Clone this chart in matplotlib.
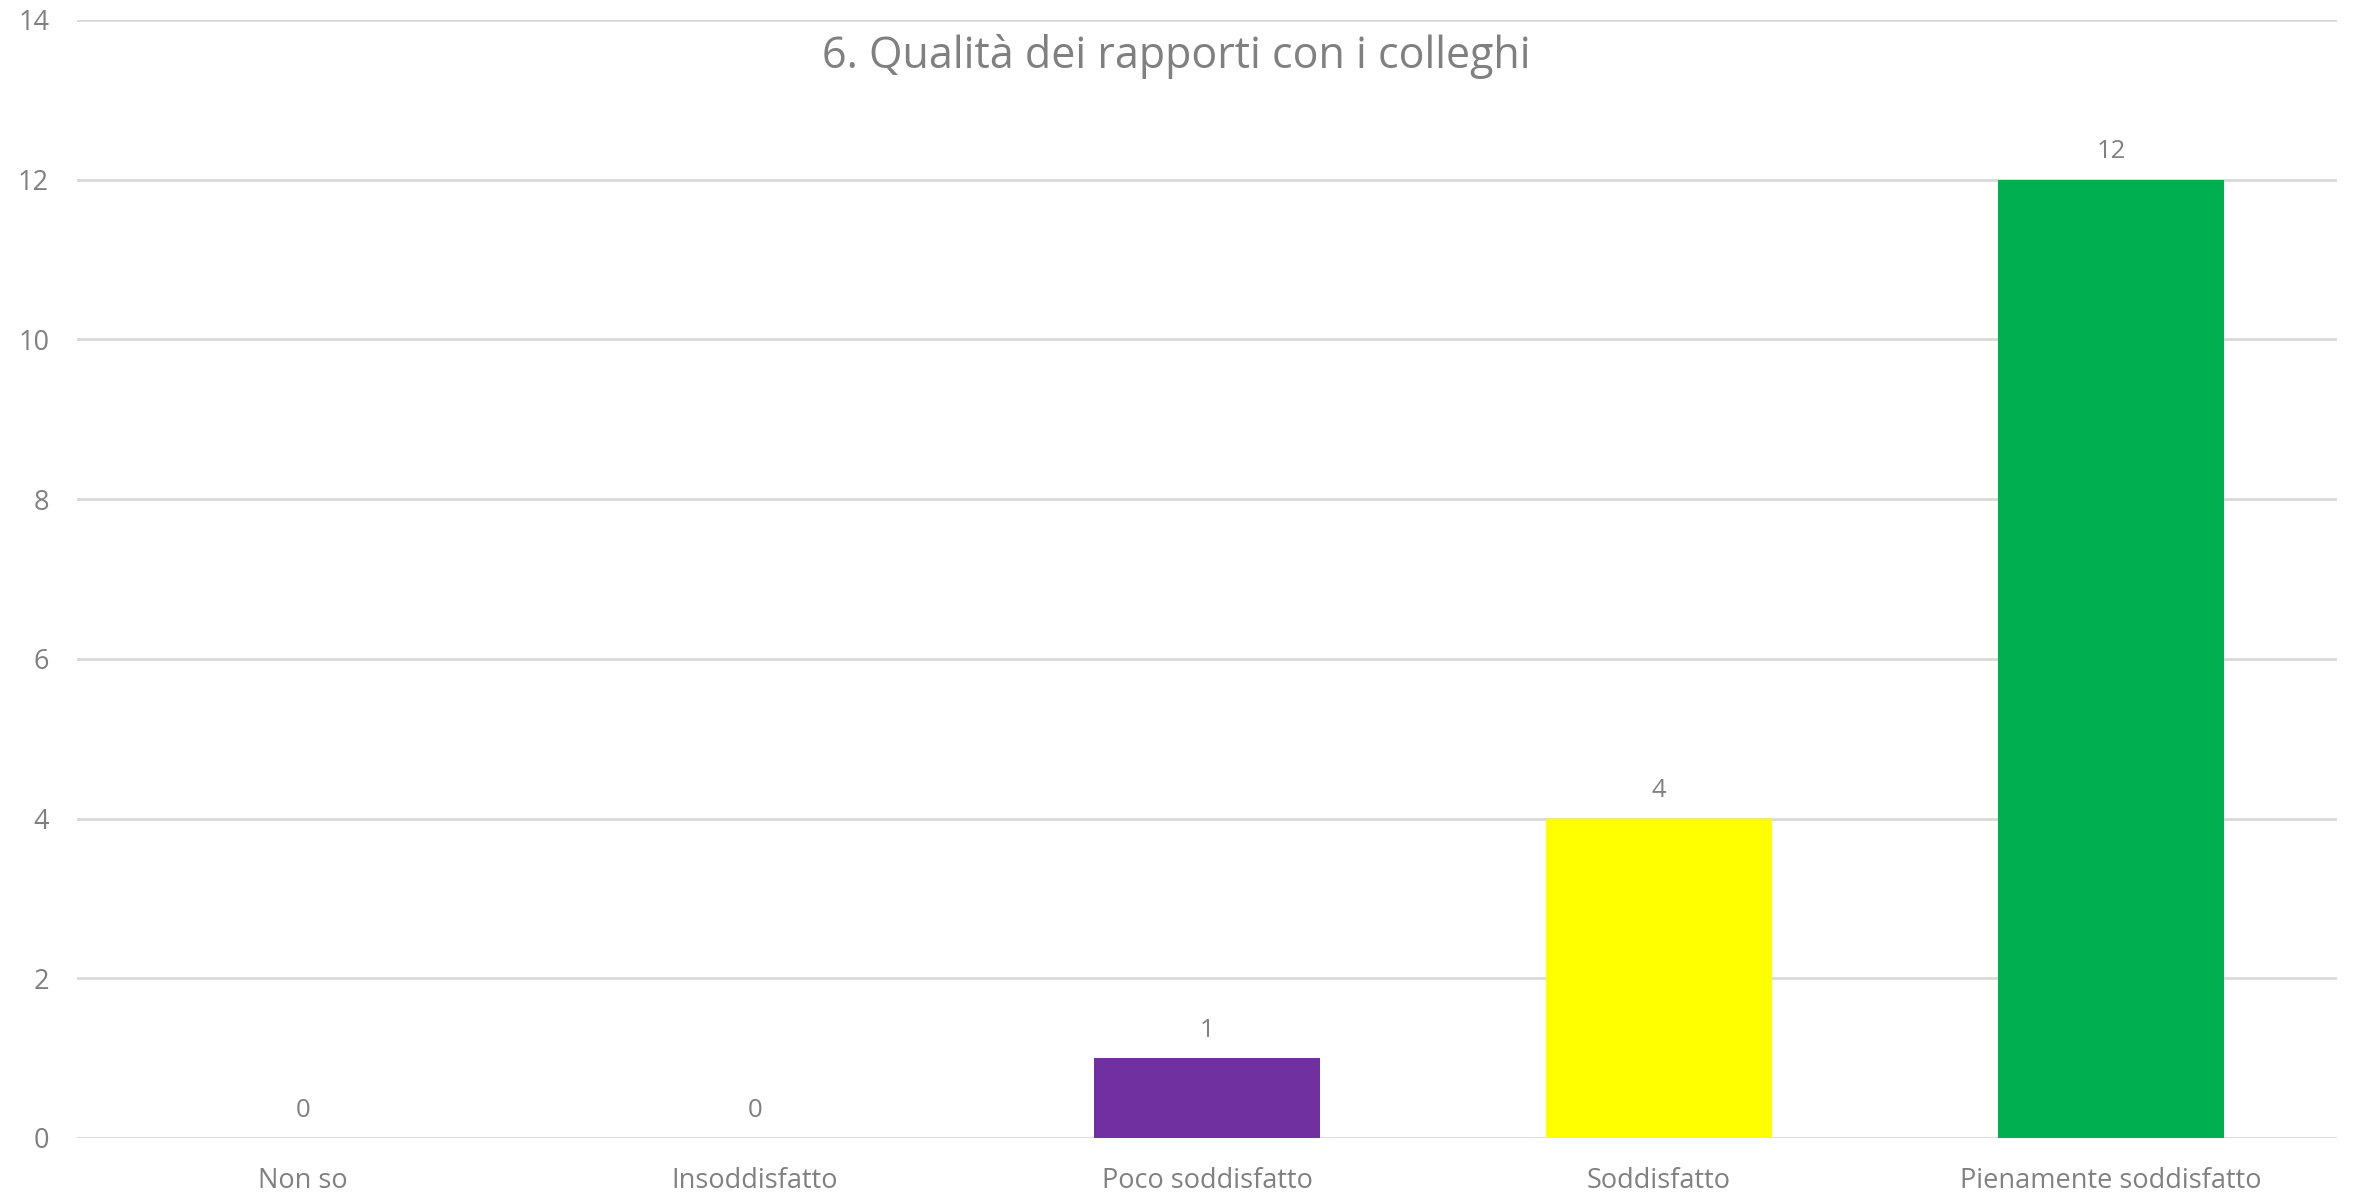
import matplotlib
matplotlib.use("Agg")
import matplotlib.pyplot as plt
import numpy as np

categories = ["Non so", "Insoddisfatto", "Poco soddisfatto", "Soddisfatto", "Pienamente soddisfatto"]
values = [0, 0, 1, 4, 12]
bar_colors = ["#4472C4", "#ED7D31", "#7030A0", "#FFFF00", "#00B050"]
yticks = [0, 2, 4, 6, 8, 10, 12, 14]
title = "6. Qualità dei rapporti con i colleghi"

plt.rcParams["font.family"] = ["Open Sans", "DejaVu Sans"]
grey = "#808080"

fig = plt.figure(figsize=(23.53, 11.97), dpi=100)
ax = fig.add_axes([0.0327, 0.0493, 0.9605, 0.934])

x = np.arange(len(categories))
ax.bar(x, values, width=0.5, color=bar_colors, zorder=3)
for xi, v in zip(x, values):
    ax.annotate(str(v), (xi, v), xytext=(0, 11), textcoords="offset points",
                ha="center", va="bottom", fontsize=18.5, color=grey)

ax.set_xlim(-0.5, len(categories) - 0.5)
ax.set_ylim(0, 14)
ax.set_yticks(yticks)
ax.set_xticks(x)
ax.set_xticklabels(categories)
ax.tick_params(axis="both", length=0, labelsize=19.5, labelcolor=grey)
ax.tick_params(axis="x", pad=21)
ax.tick_params(axis="y", pad=20)
ax.yaxis.grid(True, color="#d9d9d9", linewidth=2, zorder=0)
for s in ax.spines.values():
    s.set_visible(False)

fig.text(0.5, 0.953, title, ha="center", va="center", fontsize=31, color=grey)

fig.savefig("out.png", dpi=100)
